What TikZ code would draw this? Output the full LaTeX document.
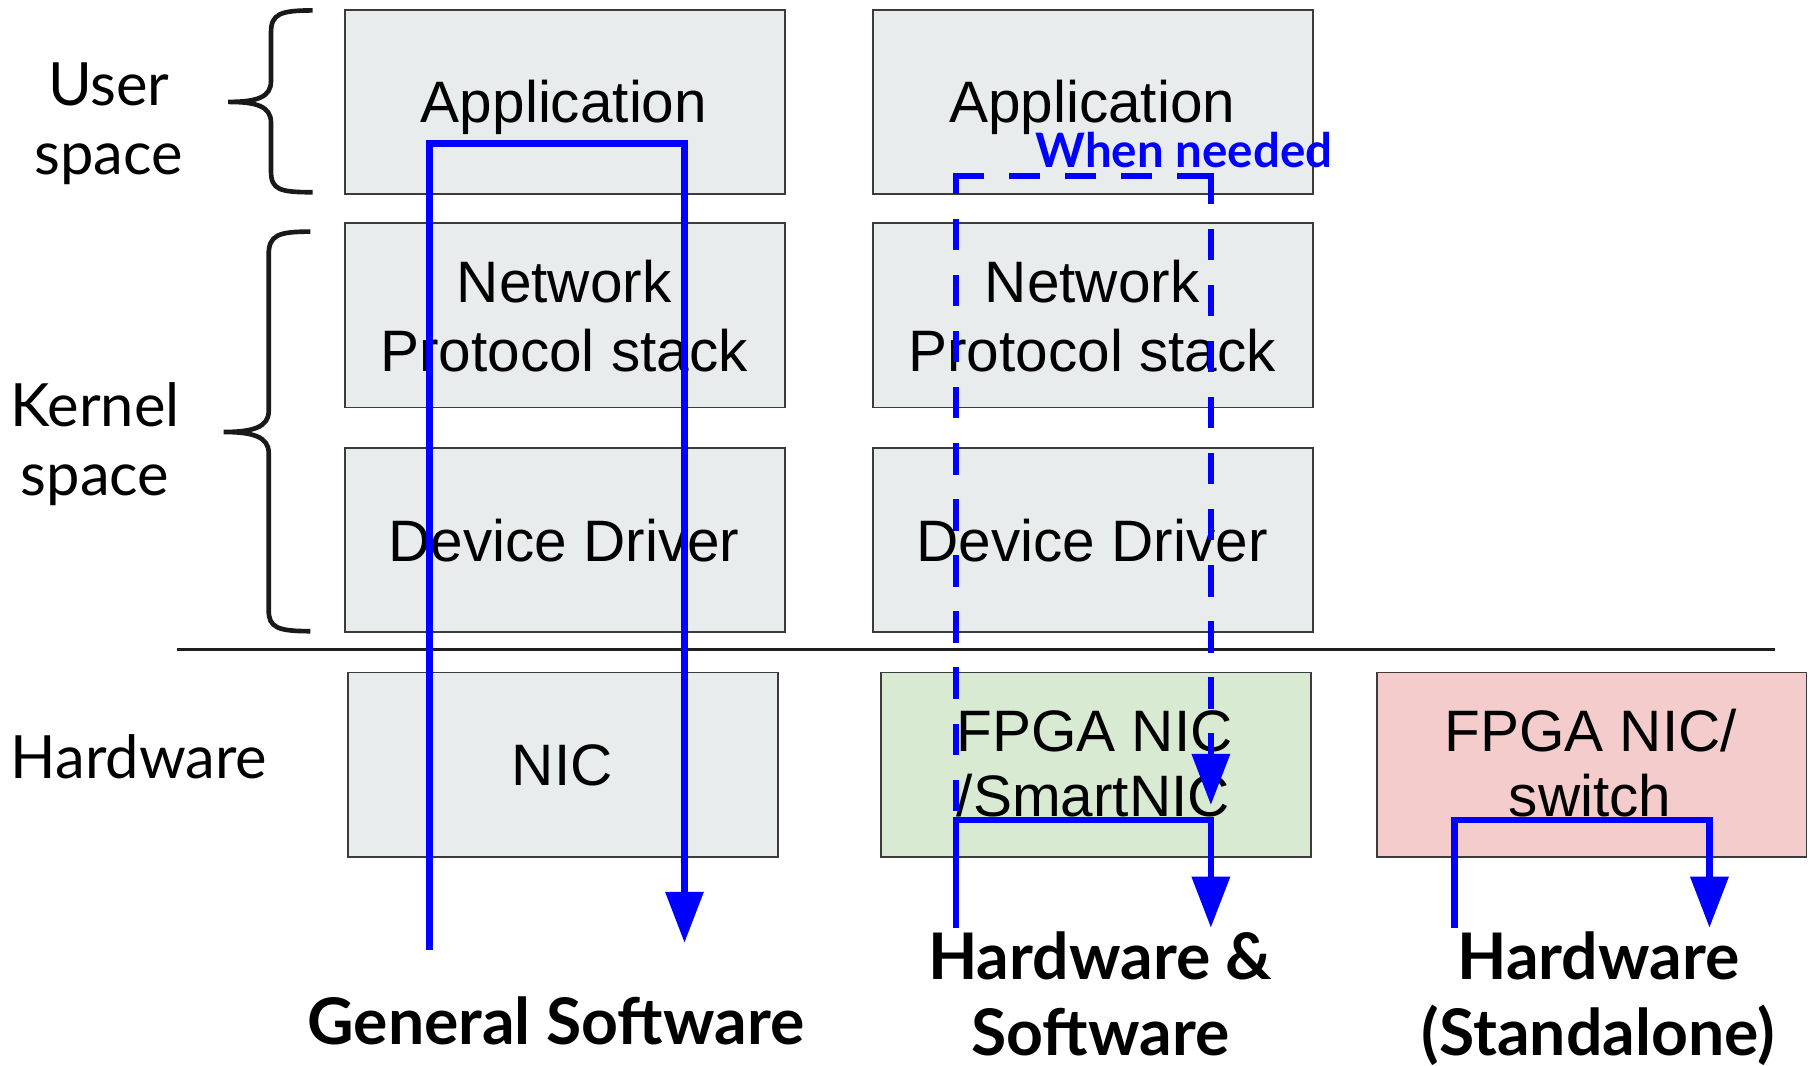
\documentclass[tikz,border=0pt]{standalone}
\usepackage{fontspec}
\setmainfont{Liberation Sans}
\newfontfamily\latofont{Lato}
\usetikzlibrary{arrows.meta}
\definecolor{boxgray}{HTML}{E8ECEC}
\definecolor{boxgreen}{HTML}{D9EAD3}
\definecolor{boxpink}{HTML}{F4CCCC}
\definecolor{boxborder}{HTML}{3C3C3C}
\definecolor{flowblue}{HTML}{0000FF}
\begin{document}
\begin{tikzpicture}[x=1pt,y=-1pt,
  layerbox/.style={draw=boxborder, line width=1.5pt, minimum width=380pt, minimum height=159pt, inner sep=0pt, anchor=north west},
  boxtext/.style={anchor=base, font=\fontsize{50.5}{60}\selectfont, inner sep=0pt},
  sidelabel/.style={anchor=base, font=\latofont\fontsize{51.5}{60}\selectfont, inner sep=0pt},
  captiontext/.style={anchor=base, font=\latofont\bfseries\fontsize{55.5}{65}\selectfont, inner sep=0pt},
  flow/.style={draw=flowblue, line width=5.5pt},
  flowdash/.style={flow, dash pattern=on 27pt off 21.4pt},
  tipped/.style={-{Triangle[length=44pt,width=32pt]}},
  bracepath/.style={draw=black!90, line width=4pt}
]
\useasboundingbox (0,0) rectangle (1568,920);

% boxes column 1
\node[layerbox, fill=boxgray] (app1) at (297,8) {};
\node[layerbox, fill=boxgray] (net1) at (297,192) {};
\node[layerbox, fill=boxgray] (drv1) at (297,386) {};
\node[layerbox, fill=boxgray, minimum width=371pt] (nic) at (300,580) {};
% boxes column 2
\node[layerbox, fill=boxgray] (app2) at (753,8) {};
\node[layerbox, fill=boxgray] (net2) at (753,192) {};
\node[layerbox, fill=boxgray] (drv2) at (753,386) {};
\node[layerbox, fill=boxgreen, minimum width=371pt] (fpga) at (760,580) {};
% box column 3
\node[layerbox, fill=boxpink, minimum width=371pt] (sw) at (1188,580) {};

% box texts
\node[boxtext] (tapp1) at (487,106) {Application};
\node[boxtext] (tnet1a) at (487,261) {Network};
\node[boxtext] (tnet1b) at (487,321) {Protocol stack};
\node[boxtext] (tdrv1) at (487,485) {Device Driver};
\node[boxtext] (tnic) at (485.5,678) {NIC};
\node[boxtext] (tapp2) at (943,106) {Application};
\node[boxtext] (tnet2a) at (943,261) {Network};
\node[boxtext] (tnet2b) at (943,321) {Protocol stack};
\node[boxtext] (tdrv2) at (943,485) {Device Driver};
\node[boxtext] (tfpga1) at (945,649) {FPGA NIC};
\node[boxtext] (tfpga2) at (944,705) {/SmartNIC};
\node[boxtext] (tsw1) at (1373.5,649) {FPGA NIC/};
\node[boxtext] (tsw2) at (1373,705) {switch};

% side labels
\node[sidelabel] (user1) at (94,91) {User};
\node[sidelabel] (user2) at (94,151) {space};
\node[sidelabel] (kern1) at (82,368) {Kernel};
\node[sidelabel] (kern2) at (82,428) {space};
\node[sidelabel] (hwlab) at (120,672) {Hardware};

% braces
\draw[bracepath] (270,9) .. controls (242,9) and (234,12) .. (234,28) -- (234,70)
  .. controls (234,84) and (222,88) .. (197,88)
  .. controls (222,88) and (234,92) .. (234,106) -- (234,148)
  .. controls (234,164) and (242,166) .. (270,166);
\draw[bracepath] (268,200) .. controls (240,200) and (232,203) .. (232,220) -- (232,355)
  .. controls (232,369) and (218,373) .. (193,373)
  .. controls (218,373) and (232,377) .. (232,391) -- (232,527)
  .. controls (232,542) and (240,545) .. (268,545);

% separator
\coordinate (sepL) at (153,561);
\coordinate (sepR) at (1533,561);
\draw[line width=3pt, black!88] (sepL) -- (sepR);

% captions
\node[captiontext] (capsw) at (480,902) {General Software};
\node[captiontext] (caphs1) at (950,846) {Hardware \&};
\node[captiontext] (caphs2) at (950,911) {Software};
\node[captiontext] (caphw1) at (1380,846) {Hardware};
\node[captiontext] (caphw2) at (1380,911) {(Standalone)};

% when needed
\node[anchor=base west, font=\latofont\bfseries\fontsize{41}{48}\selectfont, text=flowblue, inner sep=0pt] (when) at (894,145) {When needed};

% flow column 1
\coordinate (a1) at (371,820);
\coordinate (a2) at (371,124);
\coordinate (a3) at (591,124);
\coordinate (a4) at (591,814);
\draw[flow, tipped] (a1) -- (a2) -- (a3) -- (a4);

% flow column 2
\coordinate (b1) at (825.5,801);
\coordinate (b2) at (825.5,708);
\coordinate (b3) at (1045.5,708);
\coordinate (b4) at (1045.5,801);
\coordinate (c1) at (825.5,152);
\coordinate (c2) at (1045.5,152);
\coordinate (c3) at (1045.5,695);
\draw[flowdash, dash phase=40.5pt] (b2) -- (c1);
\draw[flowdash, shorten <=-2.75pt, shorten >=-2.75pt] (c1) -- (c2);
\draw[flowdash, tipped, shorten <=-2.75pt] (c2) -- (c3);
\draw[flow, tipped] (b1) -- (b2) -- (b3) -- (b4);

% flow column 3
\coordinate (d1) at (1256,801);
\coordinate (d2) at (1256,708);
\coordinate (d3) at (1476,708);
\coordinate (d4) at (1476,801);
\draw[flow, tipped] (d1) -- (d2) -- (d3) -- (d4);
\end{tikzpicture}
\end{document}
